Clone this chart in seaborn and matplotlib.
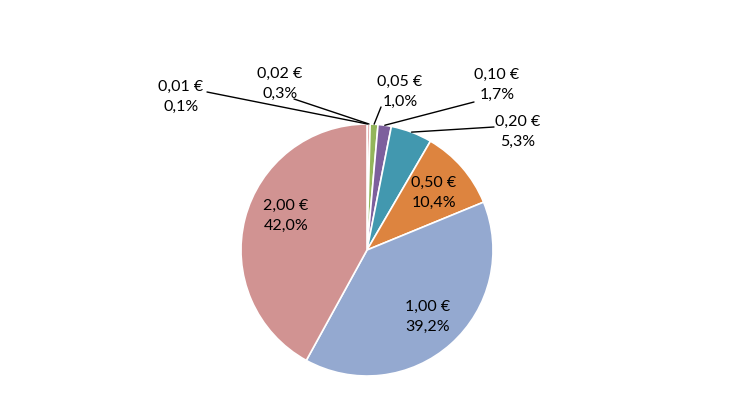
import matplotlib
matplotlib.use("Agg")
import matplotlib.pyplot as plt
import numpy as np
import seaborn as sns

# coin denominations and their share of the total (percent)
coins = ["0,01 €", "0,02 €", "0,05 €", "0,10 €", "0,20 €", "0,50 €", "1,00 €", "2,00 €"]
shares = [0.1, 0.3, 1.0, 1.7, 5.3, 10.4, 39.2, 42.0]
share_labels = ["0,1%", "0,3%", "1,0%", "1,7%", "5,3%", "10,4%", "39,2%", "42,0%"]

colors = ["#EAD6B8", "#C0504D", "#93B55B", "#7D5F9D", "#4298AF", "#DD843F", "#94A9D0", "#D19392"]

sns.set_style("white")
plt.rcParams["font.family"] = ["Lato", "DejaVu Sans"]

W, H = 730, 410
fig = plt.figure(figsize=(W / 100, H / 100), dpi=100)
ax = fig.add_axes([0, 0, 1, 1])

cx, cy, r = 367, H - 251, 126
wedges, _ = ax.pie(shares, colors=colors, startangle=90, counterclock=False,
                   center=(cx, cy), radius=r, frame=True,
                   wedgeprops=dict(edgecolor="white", linewidth=1.2))
ax.set_xlim(0, W)
ax.set_ylim(0, H)
ax.set_aspect("equal")
ax.axis("off")

# label centres in pixel coordinates (y from top), and leader line starts
label_pos = [(181, 97), (280, 84), (400, 92), (497, 85), (518, 132),
             (434, 193), (428, 317), (286, 216)]
leader_start = [(207, 93), (294, 100), (381, 108), (474, 103), (494, 128),
                None, None, None]

cum = np.cumsum([0] + shares[:-1])
for i, (coin, lab) in enumerate(zip(coins, share_labels)):
    lx, ly = label_pos[i]
    ax.text(lx, H - ly, coin + "\n" + lab, ha="center", va="center",
            fontsize=11.5, linespacing=1.5, color="black")
    if leader_start[i] is not None:
        mid = np.deg2rad(90 - 3.6 * (cum[i] + shares[i] / 2))
        px, py = cx + r * np.cos(mid), cy + r * np.sin(mid)
        sx, sy = leader_start[i]
        ax.annotate("", xy=(px, py), xytext=(sx, H - sy),
                    arrowprops=dict(arrowstyle="-", color="black", lw=1,
                                    shrinkA=0, shrinkB=0))

fig.savefig("out.png", dpi=100)
